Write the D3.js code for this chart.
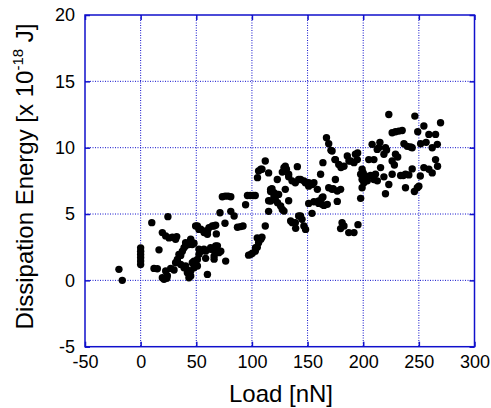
<!DOCTYPE html>
<html>
<head>
<meta charset="utf-8">
<script src="https://cdn.jsdelivr.net/npm/d3@7"></script>
<style>
  body { margin: 0; background: #fff; }
  text { font-family: "Liberation Sans", Arial, sans-serif; }
</style>
</head>
<body>
<div id="chart"></div>
<script>
const width = 491
const height = 408
const margin = {
    top: 15,
    bottom: 61.3,
    left: 85,
    right: 16.5
}

const xTicks = [-50, 0, 50, 100, 150, 200, 250, 300]
const yTicks = [-5, 0, 5, 10, 15, 20]

// [load (nN), dissipation energy (x 1e-18 J)]
const pointsLow = [
    [-19.5, 0.83], [-16.5, 0.0], [0, 1.2], [0, 1.45], [0, 1.7], [0, 1.95], [0, 2.2], [0, 2.45],
    [10, 4.35], [24.5, 4.8], [16.5, 2.3], [12, 0.9], [15, 0.88], [19.5, 0.2], [21, 0.08],
    [23.5, 0.15], [24, 0.35], [22.5, 0.7], [27, 0.9], [30, 0.78], [19.5, 3.6], [22.5, 3.35],
    [25.5, 3.2], [28.5, 3.25], [31.4, 3.1], [32.4, 3.3], [33, 1.58], [31.4, 1.33], [34.4, 1.96],
    [36, 1.88], [36, 1.2], [37.5, 2.2], [33, 1.45]
]

const pointsMid = [
    [39, 2.46], [40.4, 2.6], [40.4, 2.84], [43.4, 2.7], [45, 3.0], [46.4, 2.7], [47.9, 2.8], [45, 3.1],
    [39, 0.95], [40.4, 1.08], [42, 0.78], [42, 0.58], [45, 0.7], [45, 0.33], [43.4, 0.2], [47.9, 0.95],
    [47.9, 1.45], [46.4, 1.33], [51, 1.58], [51, 1.08], [51, 4.1], [49.4, 4.1], [52.4, 3.84], [54, 3.85],
    [57, 3.6], [58.4, 3.72], [60, 3.7], [61.4, 3.97], [60, 3.47], [52.4, 1.96], [52.4, 2.34], [54, 2.2],
    [57, 2.26], [58.4, 2.2], [56.9, 2.34], [60, 0.45], [58.4, 1.66], [62.9, 2.34], [62.9, 2.46],
    [64.4, 4.1], [65.9, 4.1], [67.4, 4.15], [68, 3.5], [66, 1.83], [66, 1.6], [66.5, 2.2], [67.4, 2.6],
    [69, 2.6], [70.3, 2.09], [72, 2.2], [71.3, 5.1], [75.8, 4.3], [73.4, 6.3], [76, 6.35], [78.5, 6.35],
    [81, 6.3]
]

const pointsHigh = [
    [76.4, 1.45], [81, 5.2], [84, 4.85], [87, 4.0], [89.8, 4.05], [92, 4.1], [94.3, 5.7],
    [96, 6.4], [98.5, 6.4], [101, 6.4], [103, 6.4], [97, 1.9], [99, 1.96], [100.4, 2.05], [103, 2.2],
    [103.3, 2.46], [104.8, 2.5], [106, 2.84], [108, 3.1], [109, 3.25], [104.8, 3.2], [112, 4.1],
    [115, 5.2], [118, 6.9], [120, 6.1], [123, 5.85], [115, 6.0], [106, 8.24], [109, 8.37], [112, 9.0],
    [108, 8.37], [115, 8.1], [105, 7.74], [116.8, 6.7], [119.8, 6.35], [122.8, 6.48], [116.8, 6.86],
    [119.8, 6.6], [124, 6.48], [121, 6.1], [116.8, 5.98], [125.8, 5.6], [127.3, 5.35], [128.8, 5.22],
    [122.8, 7.6], [128.8, 8.5], [131, 8.37], [127.3, 8.16], [130, 8.6], [133, 8.0], [140.8, 8.57],
    [133, 7.8], [136, 7.5], [139, 7.36], [142, 7.6], [143.7, 7.6], [146.7, 7.5], [148, 7.36], [151, 7.36],
    [151, 7.1], [154, 7.23], [155.7, 7.36], [130, 6.86], [133, 6.0], [136.3, 4.35], [139, 4.35],
    [142, 4.85], [143.7, 4.85], [145, 4.6], [146.7, 4.1], [148.2, 3.84], [139.3, 3.92], [134.8, 4.47],
    [151, 5.8], [155.7, 5.93], [160, 5.8], [163, 5.73], [164.7, 5.65], [160, 5.98], [163, 6.23],
    [167.7, 5.73], [154, 5.05], [158.8, 6.86], [161.7, 8.0], [163.8, 8.87], [163.8, 6.28]
]

const pointsTop = [
    [167, 10.75], [169, 10.3], [171, 9.8], [172, 9.75], [175, 9.1], [178, 8.74], [174.6, 9.1],
    [169, 6.98], [172, 6.86], [173, 6.9], [176.7, 6.73], [175, 7.6], [176.7, 5.95],
    [180, 8.5], [182.7, 8.6], [185.7, 9.37], [187.2, 9.0], [188.7, 9.0], [191.7, 8.87], [193, 9.5],
    [194.7, 9.1], [195, 9.6], [179.7, 6.86], [181, 4.35], [182.7, 4.1], [179.7, 3.9], [187, 3.6],
    [191.7, 3.6], [195.3, 4.2], [197.7, 8.0], [199, 8.37], [200, 8.1], [202, 7.86], [205, 9.1],
    [206.6, 7.9], [208, 10.25], [209.6, 9.1], [211, 8.0], [212.6, 9.87], [214, 10.0], [215, 10.4],
    [215.6, 8.5], [218.6, 9.5], [220, 10.0], [221, 9.82], [199, 7.6], [200.6, 7.36], [199, 6.98],
    [203.7, 7.5], [209.6, 7.6], [212.7, 7.5], [218.6, 7.8], [197.7, 6.18], [220, 6.53], [223, 7.23],
    [223, 12.5], [226, 11.13], [229, 11.2], [232, 11.25], [235, 11.3], [226, 9.0], [228, 8.7],
    [229, 9.5], [231, 9.3], [226, 8.0], [233.6, 7.9], [236, 7.9], [238, 8.0], [241, 7.95],
    [236.6, 10.3], [239.6, 10.1], [242.6, 10.05], [244, 10.0], [238, 6.98], [246, 6.7], [248.6, 6.98],
    [250, 7.1], [244, 8.4], [246.4, 12.38], [249, 11.2], [251.6, 10.3], [251.3, 7.86], [254.5, 11.63],
    [254.5, 8.5], [256.5, 10.4], [259, 11.0], [259, 8.37], [262, 8.1], [262, 10.0], [265, 11.0],
    [265, 9.1], [266.6, 10.25], [266.8, 8.6], [269.5, 11.88]
]

const points = pointsLow.concat(pointsMid, pointsHigh, pointsTop)

const blue = "#1010cc"

const svg = d3.select("div#chart").append("svg").attr("width", width).attr("height", height)
const plotW = width - margin.left - margin.right
const plotH = height - margin.top - margin.bottom
const plot = svg.append("g").attr("transform", `translate(${margin.left}, ${margin.top})`)

const x = d3.scaleLinear().domain([-50, 300]).range([0, plotW])
const y = d3.scaleLinear().domain([-5, 20]).range([plotH, 0])

// dotted grid
plot.append("g").selectAll("line").data(xTicks.slice(1, -1)).enter().append("line")
    .attr("x1", d => x(d)).attr("x2", d => x(d)).attr("y1", 0).attr("y2", plotH)
    .attr("stroke", blue).attr("stroke-width", 1).attr("stroke-dasharray", "1,1.5")
plot.append("g").selectAll("line").data(yTicks.slice(1, -1)).enter().append("line")
    .attr("y1", d => y(d)).attr("y2", d => y(d)).attr("x1", 0).attr("x2", plotW)
    .attr("stroke", blue).attr("stroke-width", 1).attr("stroke-dasharray", "1,1.5")

// axes with inward ticks, plain hyphen for negatives
const fmt = d => String(d)
const styleAxis = g => {
    g.select(".domain").remove()
    g.selectAll(".tick line").attr("stroke", blue).attr("stroke-width", 1.5)
    g.selectAll(".tick text").attr("fill", "#000").style("font-size", "18px")
        .style("font-family", "'Liberation Sans', Arial, sans-serif")
}
plot.append("g").attr("transform", `translate(0, ${plotH})`)
    .call(d3.axisBottom(x).tickValues(xTicks).tickFormat(fmt).tickSize(-5).tickPadding(9)).call(styleAxis)
plot.append("g")
    .call(d3.axisLeft(y).tickValues(yTicks).tickFormat(fmt).tickSize(-5).tickPadding(10)).call(styleAxis)
plot.append("g")
    .call(d3.axisTop(x).tickValues(xTicks).tickSize(-5).tickFormat("")).call(styleAxis)
plot.append("g").attr("transform", `translate(${plotW}, 0)`)
    .call(d3.axisRight(y).tickValues(yTicks).tickSize(-5).tickFormat("")).call(styleAxis)

plot.append("rect").attr("width", plotW).attr("height", plotH)
    .attr("fill", "none").attr("stroke", blue).attr("stroke-width", 1.5)

plot.append("g").selectAll("circle").data(points).enter().append("circle")
    .attr("cx", d => x(d[0]))
    .attr("cy", d => y(d[1]))
    .attr("r", 3.7)
    .attr("fill", "#000")

svg.append("text").text("Load [nN]")
    .attr("x", 281).attr("y", 401.5).attr("text-anchor", "middle")
    .style("font-size", "24px")

const yLabel = svg.append("text")
    .attr("transform", "rotate(-90)")
    .attr("x", -176.5).attr("y", 33).attr("text-anchor", "middle")
    .style("font-size", "24px")
yLabel.append("tspan").text("Dissipation Energy [x 10")
yLabel.append("tspan").text("-18").style("font-size", "15px").attr("dy", -10)
yLabel.append("tspan").text(" J]").attr("dy", 10)
</script>
</body>
</html>
